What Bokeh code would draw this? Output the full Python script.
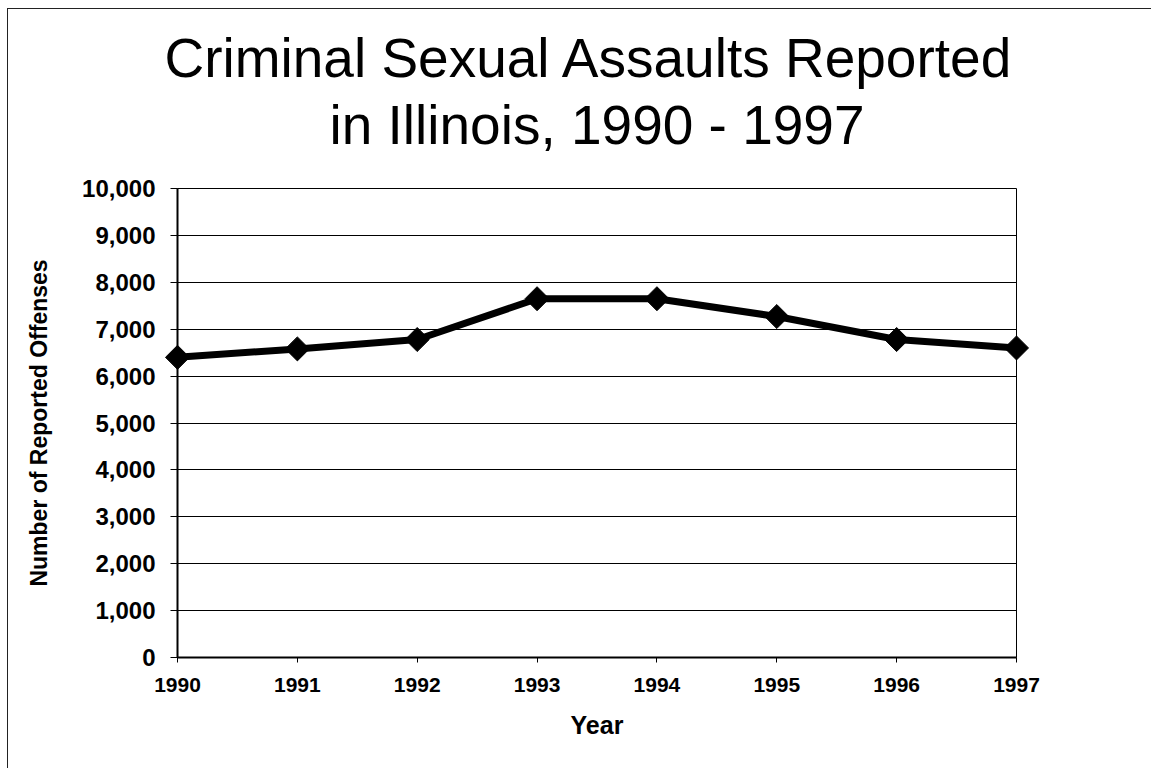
from bokeh.plotting import figure
from bokeh.models import Title, NumeralTickFormatter, FixedTicker, Range1d, ColumnDataSource
from bokeh.embed import file_html
from bokeh.resources import INLINE
import math

years = [1990, 1991, 1992, 1993, 1994, 1995, 1996, 1997]
offenses = [6400, 6580, 6780, 7650, 7650, 7270, 6780, 6600]
y_ticks = [0, 1000, 2000, 3000, 4000, 5000, 6000, 7000, 8000, 9000, 10000]
title_line1 = "Criminal Sexual Assaults Reported"
title_line2 = "in Illinois, 1990 - 1997"
x_label = "Year"
y_label = "Number of Reported Offenses"

FONT = "Liberation Sans"

p = figure(width=1144, height=760, output_backend="svg", toolbar_location=None,
           x_range=Range1d(1990, 1997), y_range=Range1d(0, 10000),
           min_border_left=169, min_border_right=136, min_border_top=179, min_border_bottom=112)
p.title = None
p.margin = (8, 0, 0, 7)
p.styles = {"border-left": "1px solid #222", "border-top": "1px solid #222"}

spacer = Title(text=" ", text_font=FONT, text_font_size="28px", standoff=0)
t2 = Title(text=title_line2, align="center", text_font=FONT, text_font_size="55px",
           text_font_style="normal", text_color="black", standoff=0)
t1 = Title(text=title_line1 + "\u00a0", align="center", text_font=FONT, text_font_size="55px",
           text_font_style="normal", text_color="black", standoff=5)
p.add_layout(spacer, "above")
p.add_layout(t2, "above")
p.add_layout(t1, "above")

p.outline_line_color = "black"
p.outline_line_width = 1
p.background_fill_color = "white"
p.border_fill_color = "white"

p.xgrid.visible = False
p.ygrid.grid_line_color = "black"
p.ygrid.grid_line_width = 1
p.ygrid.grid_line_alpha = 1

p.xaxis.ticker = FixedTicker(ticks=years)
p.yaxis.ticker = FixedTicker(ticks=y_ticks)
p.yaxis.formatter = NumeralTickFormatter(format="0,0")

for ax in (p.xaxis, p.yaxis):
    ax.axis_line_color = "black"
    ax.axis_line_width = 2
    ax.major_tick_line_color = "black"
    ax.major_tick_line_width = 1
    ax.minor_tick_line_color = None
    ax.major_tick_in = 0
    ax.major_label_text_font = FONT
    ax.major_label_text_font_style = "bold"
    ax.major_label_text_color = "black"
    ax.axis_label_text_font = FONT
    ax.axis_label_text_font_style = "bold"
    ax.axis_label_text_color = "black"

p.xaxis.major_label_text_font_size = "21px"
p.yaxis.major_label_text_font_size = "24px"
p.xaxis.axis_label_text_font_size = "25px"
p.yaxis.axis_label_text_font_size = "23px"

p.xaxis.axis_label = x_label
p.yaxis.axis_label = y_label
p.yaxis.major_tick_out = 7
p.yaxis.major_label_standoff = 15
p.yaxis.axis_label_standoff = 27
p.xaxis.major_tick_out = 5
p.xaxis.major_label_standoff = 15
p.xaxis.axis_label_standoff = 16

src = ColumnDataSource(dict(x=years, y=offenses))
p.line("x", "y", source=src, line_color="black", line_width=7, level="overlay")
p.scatter("x", "y", source=src, marker="square", size=17, angle=math.pi / 4,
          fill_color="black", line_color="black", level="overlay")

open("out.html", "w").write(file_html(p, INLINE))
